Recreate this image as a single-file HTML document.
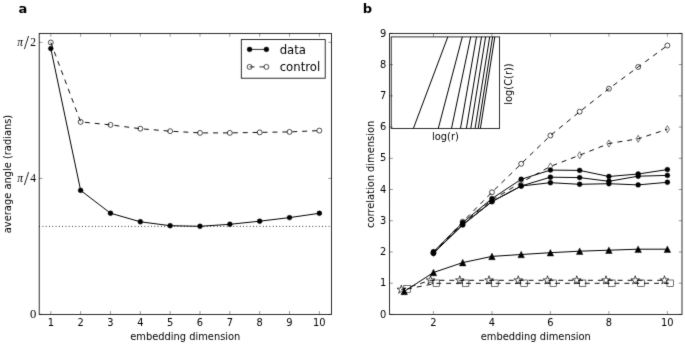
<!DOCTYPE html>
<html><head><meta charset="utf-8"><title>figure</title>
<style>
html,body{margin:0;padding:0;background:#fff;}
body{width:685px;height:344px;overflow:hidden;}
svg{display:block;}
text{font-family:"DejaVu Sans","Liberation Sans",sans-serif;fill:#000;}
</style></head>
<body>
<svg width="685" height="344" viewBox="0 0 685 344">
<defs><filter id="soft" filterUnits="userSpaceOnUse" x="0" y="0" width="685" height="344" color-interpolation-filters="sRGB"><feConvolveMatrix order="3" kernelMatrix="1 8 1 8 64 8 1 8 1" divisor="100" edgeMode="duplicate"/></filter></defs>
<g filter="url(#soft)">
<rect width="685" height="344" fill="#fff"/>
<path d="M39.2,226.4 L331.5,226.4" fill="none" stroke="#000" stroke-width="0.95" stroke-linejoin="round" stroke-dasharray="0.82 2.47"/>
<path d="M50.8,42.5 L80.64,121.9 L110.48,124.9 L140.32,128.7 L170.16,131.2 L200,132.9 L229.84,132.9 L259.68,132.4 L289.52,131.9 L319.36,130.6" fill="none" stroke="#000" stroke-width="0.95" stroke-linejoin="round" stroke-dasharray="4.95 4.95"/>
<path d="M50.8,48.6 L80.64,190.4 L110.48,213.2 L140.32,221.8 L170.16,225.7 L200,226.3 L229.84,224.3 L259.68,221.2 L289.52,217.6 L319.36,213.3" fill="none" stroke="#000" stroke-width="1" stroke-linejoin="round"/>
<circle cx="50.8" cy="42.5" r="2.47" fill="none" stroke="#000" stroke-width="0.7"/>
<circle cx="80.64" cy="121.9" r="2.47" fill="none" stroke="#000" stroke-width="0.7"/>
<circle cx="110.48" cy="124.9" r="2.47" fill="none" stroke="#000" stroke-width="0.7"/>
<circle cx="140.32" cy="128.7" r="2.47" fill="none" stroke="#000" stroke-width="0.7"/>
<circle cx="170.16" cy="131.2" r="2.47" fill="none" stroke="#000" stroke-width="0.7"/>
<circle cx="200" cy="132.9" r="2.47" fill="none" stroke="#000" stroke-width="0.7"/>
<circle cx="229.84" cy="132.9" r="2.47" fill="none" stroke="#000" stroke-width="0.7"/>
<circle cx="259.68" cy="132.4" r="2.47" fill="none" stroke="#000" stroke-width="0.7"/>
<circle cx="289.52" cy="131.9" r="2.47" fill="none" stroke="#000" stroke-width="0.7"/>
<circle cx="319.36" cy="130.6" r="2.47" fill="none" stroke="#000" stroke-width="0.7"/>
<circle cx="50.8" cy="48.6" r="2.47" fill="#000" stroke="#000" stroke-width="0.41"/>
<circle cx="80.64" cy="190.4" r="2.47" fill="#000" stroke="#000" stroke-width="0.41"/>
<circle cx="110.48" cy="213.2" r="2.47" fill="#000" stroke="#000" stroke-width="0.41"/>
<circle cx="140.32" cy="221.8" r="2.47" fill="#000" stroke="#000" stroke-width="0.41"/>
<circle cx="170.16" cy="225.7" r="2.47" fill="#000" stroke="#000" stroke-width="0.41"/>
<circle cx="200" cy="226.3" r="2.47" fill="#000" stroke="#000" stroke-width="0.41"/>
<circle cx="229.84" cy="224.3" r="2.47" fill="#000" stroke="#000" stroke-width="0.41"/>
<circle cx="259.68" cy="221.2" r="2.47" fill="#000" stroke="#000" stroke-width="0.41"/>
<circle cx="289.52" cy="217.6" r="2.47" fill="#000" stroke="#000" stroke-width="0.41"/>
<circle cx="319.36" cy="213.3" r="2.47" fill="#000" stroke="#000" stroke-width="0.41"/>
<path d="M50.8,314.4 V311.1 M50.8,33.4 V36.7" stroke="#000" stroke-width="0.41"/>
<text x="50.8" y="325.8" font-size="9.9" text-anchor="middle">1</text>
<path d="M80.64,314.4 V311.1 M80.64,33.4 V36.7" stroke="#000" stroke-width="0.41"/>
<text x="80.64" y="325.8" font-size="9.9" text-anchor="middle">2</text>
<path d="M110.48,314.4 V311.1 M110.48,33.4 V36.7" stroke="#000" stroke-width="0.41"/>
<text x="110.48" y="325.8" font-size="9.9" text-anchor="middle">3</text>
<path d="M140.32,314.4 V311.1 M140.32,33.4 V36.7" stroke="#000" stroke-width="0.41"/>
<text x="140.32" y="325.8" font-size="9.9" text-anchor="middle">4</text>
<path d="M170.16,314.4 V311.1 M170.16,33.4 V36.7" stroke="#000" stroke-width="0.41"/>
<text x="170.16" y="325.8" font-size="9.9" text-anchor="middle">5</text>
<path d="M200,314.4 V311.1 M200,33.4 V36.7" stroke="#000" stroke-width="0.41"/>
<text x="200" y="325.8" font-size="9.9" text-anchor="middle">6</text>
<path d="M229.84,314.4 V311.1 M229.84,33.4 V36.7" stroke="#000" stroke-width="0.41"/>
<text x="229.84" y="325.8" font-size="9.9" text-anchor="middle">7</text>
<path d="M259.68,314.4 V311.1 M259.68,33.4 V36.7" stroke="#000" stroke-width="0.41"/>
<text x="259.68" y="325.8" font-size="9.9" text-anchor="middle">8</text>
<path d="M289.52,314.4 V311.1 M289.52,33.4 V36.7" stroke="#000" stroke-width="0.41"/>
<text x="289.52" y="325.8" font-size="9.9" text-anchor="middle">9</text>
<path d="M319.36,314.4 V311.1 M319.36,33.4 V36.7" stroke="#000" stroke-width="0.41"/>
<text x="319.36" y="325.8" font-size="9.9" text-anchor="middle">10</text>
<path d="M39.2,42.3 H42.5 M331.5,42.3 H328.2" stroke="#000" stroke-width="0.41"/>
<path d="M39.2,178.4 H42.5 M331.5,178.4 H328.2" stroke="#000" stroke-width="0.41"/>
<path d="M39.2,314.4 H42.5 M331.5,314.4 H328.2" stroke="#000" stroke-width="0.41"/>
<rect x="39.2" y="33.4" width="292.3" height="281" fill="none" stroke="#000" stroke-width="0.82"/>
<text y="45.6" font-size="11.5" style="font-family:'Liberation Serif', serif"><tspan x="17.2" font-style="italic">π</tspan><tspan x="23.9" y="48.6" font-size="18">/</tspan><tspan x="30.3" y="45.6">2</tspan></text>
<text y="182.1" font-size="11.5" style="font-family:'Liberation Serif', serif"><tspan x="17.2" font-style="italic">π</tspan><tspan x="23.9" y="185.1" font-size="18">/</tspan><tspan x="30.3" y="182.1">4</tspan></text>
<text x="36.3" y="318.3" font-size="12.6" text-anchor="end" style="font-family:'Liberation Serif', serif">0</text>
<rect x="241.3" y="39.6" width="83.9" height="38.6" fill="#fff" stroke="#000" stroke-width="0.82"/>
<path d="M249.6,49.4 L266.4,49.4" fill="none" stroke="#000" stroke-width="0.82" stroke-linejoin="round"/>
<circle cx="249.6" cy="49.4" r="2.47" fill="#000" stroke="#000" stroke-width="0.41"/>
<circle cx="266.4" cy="49.4" r="2.47" fill="#000" stroke="#000" stroke-width="0.41"/>
<path d="M249.6,66.9 L266.4,66.9" fill="none" stroke="#000" stroke-width="0.82" stroke-linejoin="round" stroke-dasharray="4.95 4.95"/>
<circle cx="249.6" cy="66.9" r="2.47" fill="none" stroke="#000" stroke-width="0.7"/>
<circle cx="266.4" cy="66.9" r="2.47" fill="none" stroke="#000" stroke-width="0.7"/>
<text x="279.7" y="53.9" font-size="11.7" text-anchor="start">data</text>
<text x="279.7" y="71.2" font-size="11.7" text-anchor="start">control</text>
<text x="185.3" y="339.5" font-size="9.9" text-anchor="middle">embedding dimension</text>
<text transform="translate(10.5,174.0) rotate(-90)" font-size="9.9" text-anchor="middle">average angle (radians)</text>
<text x="18.5" y="13.0" font-size="13" font-weight="bold">a</text>
<path d="M433.46,252.6 L462.7,221.7 L491.94,192.3 L521.18,163.8 L550.42,135.5 L579.66,111.7 L608.9,88.7 L638.14,67 L667.38,45.5" fill="none" stroke="#000" stroke-width="0.95" stroke-linejoin="round" stroke-dasharray="4.95 4.95" stroke-dashoffset="1.6"/>
<path d="M433.46,252.8 L462.7,223.5 L491.94,200 L521.18,182.5 L550.42,166.4 L579.66,155.2 L608.9,143.5 L638.14,138.8 L667.38,129.2" fill="none" stroke="#000" stroke-width="0.95" stroke-linejoin="round" stroke-dasharray="4.95 4.95"/>
<path d="M401.32,289.6 L430.56,280.3 L459.8,280.3 L489.04,280.3 L518.28,280.3 L547.52,280.3 L576.76,280.3 L606,280.3 L635.24,280.3 L664.48,280.3" fill="none" stroke="#000" stroke-width="0.95" stroke-linejoin="round" stroke-dasharray="4.95 4.95"/>
<path d="M407.12,289 L436.36,283.3 L465.6,283.3 L494.84,283.3 L524.08,283.3 L553.32,283.3 L582.56,283.3 L611.8,283.3 L641.04,283.3 L670.28,283.3" fill="none" stroke="#000" stroke-width="0.95" stroke-linejoin="round" stroke-dasharray="4.95 4.95"/>
<circle cx="433.46" cy="252.6" r="2.47" fill="none" stroke="#000" stroke-width="0.7"/>
<circle cx="462.7" cy="221.7" r="2.47" fill="none" stroke="#000" stroke-width="0.7"/>
<circle cx="491.94" cy="192.3" r="2.47" fill="none" stroke="#000" stroke-width="0.7"/>
<circle cx="521.18" cy="163.8" r="2.47" fill="none" stroke="#000" stroke-width="0.7"/>
<circle cx="550.42" cy="135.5" r="2.47" fill="none" stroke="#000" stroke-width="0.7"/>
<circle cx="579.66" cy="111.7" r="2.47" fill="none" stroke="#000" stroke-width="0.7"/>
<circle cx="608.9" cy="88.7" r="2.47" fill="none" stroke="#000" stroke-width="0.7"/>
<circle cx="638.14" cy="67" r="2.47" fill="none" stroke="#000" stroke-width="0.7"/>
<circle cx="667.38" cy="45.5" r="2.47" fill="none" stroke="#000" stroke-width="0.7"/>
<path d="M433.46,249.3 L435.56,252.8 L433.46,256.3 L431.36,252.8 Z" fill="none" stroke="#000" stroke-width="0.55"/>
<path d="M462.7,220 L464.8,223.5 L462.7,227 L460.6,223.5 Z" fill="none" stroke="#000" stroke-width="0.55"/>
<path d="M491.94,196.5 L494.04,200 L491.94,203.5 L489.84,200 Z" fill="none" stroke="#000" stroke-width="0.55"/>
<path d="M521.18,179 L523.28,182.5 L521.18,186 L519.08,182.5 Z" fill="none" stroke="#000" stroke-width="0.55"/>
<path d="M550.42,162.9 L552.52,166.4 L550.42,169.9 L548.32,166.4 Z" fill="none" stroke="#000" stroke-width="0.55"/>
<path d="M579.66,151.7 L581.76,155.2 L579.66,158.7 L577.56,155.2 Z" fill="none" stroke="#000" stroke-width="0.55"/>
<path d="M608.9,140 L611,143.5 L608.9,147 L606.8,143.5 Z" fill="none" stroke="#000" stroke-width="0.55"/>
<path d="M638.14,135.3 L640.24,138.8 L638.14,142.3 L636.04,138.8 Z" fill="none" stroke="#000" stroke-width="0.55"/>
<path d="M667.38,125.7 L669.48,129.2 L667.38,132.7 L665.28,129.2 Z" fill="none" stroke="#000" stroke-width="0.55"/>
<path d="M401.32,285.06 L400.3,288.2 L397,288.2 L399.67,290.14 L398.65,293.27 L401.32,291.33 L403.99,293.27 L402.97,290.14 L405.64,288.2 L402.34,288.2 Z" fill="none" stroke="#000" stroke-width="0.7" stroke-linejoin="miter"/>
<path d="M430.56,275.76 L429.54,278.9 L426.24,278.9 L428.91,280.84 L427.89,283.97 L430.56,282.03 L433.23,283.97 L432.21,280.84 L434.88,278.9 L431.58,278.9 Z" fill="none" stroke="#000" stroke-width="0.7" stroke-linejoin="miter"/>
<path d="M459.8,275.76 L458.78,278.9 L455.48,278.9 L458.15,280.84 L457.13,283.97 L459.8,282.03 L462.47,283.97 L461.45,280.84 L464.12,278.9 L460.82,278.9 Z" fill="none" stroke="#000" stroke-width="0.7" stroke-linejoin="miter"/>
<path d="M489.04,275.76 L488.02,278.9 L484.72,278.9 L487.39,280.84 L486.37,283.97 L489.04,282.03 L491.71,283.97 L490.69,280.84 L493.36,278.9 L490.06,278.9 Z" fill="none" stroke="#000" stroke-width="0.7" stroke-linejoin="miter"/>
<path d="M518.28,275.76 L517.26,278.9 L513.96,278.9 L516.63,280.84 L515.61,283.97 L518.28,282.03 L520.95,283.97 L519.93,280.84 L522.6,278.9 L519.3,278.9 Z" fill="none" stroke="#000" stroke-width="0.7" stroke-linejoin="miter"/>
<path d="M547.52,275.76 L546.5,278.9 L543.2,278.9 L545.87,280.84 L544.85,283.97 L547.52,282.03 L550.19,283.97 L549.17,280.84 L551.84,278.9 L548.54,278.9 Z" fill="none" stroke="#000" stroke-width="0.7" stroke-linejoin="miter"/>
<path d="M576.76,275.76 L575.74,278.9 L572.44,278.9 L575.11,280.84 L574.09,283.97 L576.76,282.03 L579.43,283.97 L578.41,280.84 L581.08,278.9 L577.78,278.9 Z" fill="none" stroke="#000" stroke-width="0.7" stroke-linejoin="miter"/>
<path d="M606,275.76 L604.98,278.9 L601.68,278.9 L604.35,280.84 L603.33,283.97 L606,282.03 L608.67,283.97 L607.65,280.84 L610.32,278.9 L607.02,278.9 Z" fill="none" stroke="#000" stroke-width="0.7" stroke-linejoin="miter"/>
<path d="M635.24,275.76 L634.22,278.9 L630.92,278.9 L633.59,280.84 L632.57,283.97 L635.24,282.03 L637.91,283.97 L636.89,280.84 L639.56,278.9 L636.26,278.9 Z" fill="none" stroke="#000" stroke-width="0.7" stroke-linejoin="miter"/>
<path d="M664.48,275.76 L663.46,278.9 L660.16,278.9 L662.83,280.84 L661.81,283.97 L664.48,282.03 L667.15,283.97 L666.13,280.84 L668.8,278.9 L665.5,278.9 Z" fill="none" stroke="#000" stroke-width="0.7" stroke-linejoin="miter"/>
<rect x="403.82" y="285.7" width="6.6" height="6.6" fill="none" stroke="#000" stroke-width="0.55"/>
<rect x="433.06" y="280" width="6.6" height="6.6" fill="none" stroke="#000" stroke-width="0.55"/>
<rect x="462.3" y="280" width="6.6" height="6.6" fill="none" stroke="#000" stroke-width="0.55"/>
<rect x="491.54" y="280" width="6.6" height="6.6" fill="none" stroke="#000" stroke-width="0.55"/>
<rect x="520.78" y="280" width="6.6" height="6.6" fill="none" stroke="#000" stroke-width="0.55"/>
<rect x="550.02" y="280" width="6.6" height="6.6" fill="none" stroke="#000" stroke-width="0.55"/>
<rect x="579.26" y="280" width="6.6" height="6.6" fill="none" stroke="#000" stroke-width="0.55"/>
<rect x="608.5" y="280" width="6.6" height="6.6" fill="none" stroke="#000" stroke-width="0.55"/>
<rect x="637.74" y="280" width="6.6" height="6.6" fill="none" stroke="#000" stroke-width="0.55"/>
<rect x="666.98" y="280" width="6.6" height="6.6" fill="none" stroke="#000" stroke-width="0.55"/>
<path d="M404.22,291.4 L433.46,272.5 L462.7,262.6 L491.94,256.4 L521.18,254.5 L550.42,252.7 L579.66,251.2 L608.9,250.2 L638.14,249.2 L667.38,249.2" fill="none" stroke="#000" stroke-width="1" stroke-linejoin="round"/>
<path d="M404.22,288.1 L400.92,294.7 L407.52,294.7 Z" fill="#000" stroke="#000" stroke-width="0.41" stroke-linejoin="miter"/>
<path d="M433.46,269.2 L430.16,275.8 L436.76,275.8 Z" fill="#000" stroke="#000" stroke-width="0.41" stroke-linejoin="miter"/>
<path d="M462.7,259.3 L459.4,265.9 L466,265.9 Z" fill="#000" stroke="#000" stroke-width="0.41" stroke-linejoin="miter"/>
<path d="M491.94,253.1 L488.64,259.7 L495.24,259.7 Z" fill="#000" stroke="#000" stroke-width="0.41" stroke-linejoin="miter"/>
<path d="M521.18,251.2 L517.88,257.8 L524.48,257.8 Z" fill="#000" stroke="#000" stroke-width="0.41" stroke-linejoin="miter"/>
<path d="M550.42,249.4 L547.12,256 L553.72,256 Z" fill="#000" stroke="#000" stroke-width="0.41" stroke-linejoin="miter"/>
<path d="M579.66,247.9 L576.36,254.5 L582.96,254.5 Z" fill="#000" stroke="#000" stroke-width="0.41" stroke-linejoin="miter"/>
<path d="M608.9,246.9 L605.6,253.5 L612.2,253.5 Z" fill="#000" stroke="#000" stroke-width="0.41" stroke-linejoin="miter"/>
<path d="M638.14,245.9 L634.84,252.5 L641.44,252.5 Z" fill="#000" stroke="#000" stroke-width="0.41" stroke-linejoin="miter"/>
<path d="M667.38,245.9 L664.08,252.5 L670.68,252.5 Z" fill="#000" stroke="#000" stroke-width="0.41" stroke-linejoin="miter"/>
<path d="M433.46,251.8 L462.7,222.6 L491.94,198.6 L521.18,179.3 L550.42,170.1 L579.66,170.4 L608.9,176.5 L638.14,174 L667.38,169.6" fill="none" stroke="#000" stroke-width="1" stroke-linejoin="round"/>
<path d="M433.46,253.3 L462.7,224.8 L491.94,201.6 L521.18,186 L550.42,177.2 L579.66,177.6 L608.9,181.3 L638.14,176.2 L667.38,175.4" fill="none" stroke="#000" stroke-width="1" stroke-linejoin="round"/>
<path d="M433.46,253.3 L462.7,224.8 L491.94,201.6 L521.18,186 L550.42,182.7 L579.66,184.3 L608.9,183.7 L638.14,184.9 L667.38,182.3" fill="none" stroke="#000" stroke-width="1" stroke-linejoin="round"/>
<circle cx="433.46" cy="251.8" r="2.47" fill="#000" stroke="#000" stroke-width="0.41"/>
<circle cx="462.7" cy="222.6" r="2.47" fill="#000" stroke="#000" stroke-width="0.41"/>
<circle cx="491.94" cy="198.6" r="2.47" fill="#000" stroke="#000" stroke-width="0.41"/>
<circle cx="521.18" cy="179.3" r="2.47" fill="#000" stroke="#000" stroke-width="0.41"/>
<circle cx="550.42" cy="170.1" r="2.47" fill="#000" stroke="#000" stroke-width="0.41"/>
<circle cx="579.66" cy="170.4" r="2.47" fill="#000" stroke="#000" stroke-width="0.41"/>
<circle cx="608.9" cy="176.5" r="2.47" fill="#000" stroke="#000" stroke-width="0.41"/>
<circle cx="638.14" cy="174" r="2.47" fill="#000" stroke="#000" stroke-width="0.41"/>
<circle cx="667.38" cy="169.6" r="2.47" fill="#000" stroke="#000" stroke-width="0.41"/>
<circle cx="433.46" cy="253.3" r="2.47" fill="#000" stroke="#000" stroke-width="0.41"/>
<circle cx="462.7" cy="224.8" r="2.47" fill="#000" stroke="#000" stroke-width="0.41"/>
<circle cx="491.94" cy="201.6" r="2.47" fill="#000" stroke="#000" stroke-width="0.41"/>
<circle cx="521.18" cy="186" r="2.47" fill="#000" stroke="#000" stroke-width="0.41"/>
<circle cx="550.42" cy="177.2" r="2.47" fill="#000" stroke="#000" stroke-width="0.41"/>
<circle cx="579.66" cy="177.6" r="2.47" fill="#000" stroke="#000" stroke-width="0.41"/>
<circle cx="608.9" cy="181.3" r="2.47" fill="#000" stroke="#000" stroke-width="0.41"/>
<circle cx="638.14" cy="176.2" r="2.47" fill="#000" stroke="#000" stroke-width="0.41"/>
<circle cx="667.38" cy="175.4" r="2.47" fill="#000" stroke="#000" stroke-width="0.41"/>
<circle cx="433.46" cy="253.3" r="2.47" fill="#000" stroke="#000" stroke-width="0.41"/>
<circle cx="462.7" cy="224.8" r="2.47" fill="#000" stroke="#000" stroke-width="0.41"/>
<circle cx="491.94" cy="201.6" r="2.47" fill="#000" stroke="#000" stroke-width="0.41"/>
<circle cx="521.18" cy="186" r="2.47" fill="#000" stroke="#000" stroke-width="0.41"/>
<circle cx="550.42" cy="182.7" r="2.47" fill="#000" stroke="#000" stroke-width="0.41"/>
<circle cx="579.66" cy="184.3" r="2.47" fill="#000" stroke="#000" stroke-width="0.41"/>
<circle cx="608.9" cy="183.7" r="2.47" fill="#000" stroke="#000" stroke-width="0.41"/>
<circle cx="638.14" cy="184.9" r="2.47" fill="#000" stroke="#000" stroke-width="0.41"/>
<circle cx="667.38" cy="182.3" r="2.47" fill="#000" stroke="#000" stroke-width="0.41"/>
<rect x="391.2" y="36.9" width="108.4" height="91.5" fill="#fff" stroke="#000" stroke-width="0.82"/>
<path d="M413.4,128.4 L447.8,36.9" fill="none" stroke="#000" stroke-width="1" stroke-linejoin="round"/>
<path d="M438.3,128.4 L462.3,36.9" fill="none" stroke="#000" stroke-width="1" stroke-linejoin="round"/>
<path d="M451.5,128.4 L470.7,36.9" fill="none" stroke="#000" stroke-width="1" stroke-linejoin="round"/>
<path d="M460.5,128.4 L476.5,36.9" fill="none" stroke="#000" stroke-width="1" stroke-linejoin="round"/>
<path d="M466.4,128.4 L481.5,36.9" fill="none" stroke="#000" stroke-width="1" stroke-linejoin="round"/>
<path d="M470.8,128.4 L485.6,36.9" fill="none" stroke="#000" stroke-width="1" stroke-linejoin="round"/>
<path d="M475.1,128.4 L489.7,36.9" fill="none" stroke="#000" stroke-width="1" stroke-linejoin="round"/>
<path d="M478.2,128.4 L492.6,36.9" fill="none" stroke="#000" stroke-width="1" stroke-linejoin="round"/>
<path d="M480.4,128.4 L494.8,36.9" fill="none" stroke="#000" stroke-width="1" stroke-linejoin="round"/>
<text x="445.4" y="140.1" font-size="9.9" text-anchor="middle">log(r)</text>
<text transform="translate(512.0,84.0) rotate(-90)" font-size="9.9" text-anchor="middle">log(C(r))</text>
<path d="M433.46,314.4 V311.1 M433.46,33.4 V36.7" stroke="#000" stroke-width="0.41"/>
<text x="433.46" y="325.8" font-size="9.9" text-anchor="middle">2</text>
<path d="M491.94,314.4 V311.1 M491.94,33.4 V36.7" stroke="#000" stroke-width="0.41"/>
<text x="491.94" y="325.8" font-size="9.9" text-anchor="middle">4</text>
<path d="M550.42,314.4 V311.1 M550.42,33.4 V36.7" stroke="#000" stroke-width="0.41"/>
<text x="550.42" y="325.8" font-size="9.9" text-anchor="middle">6</text>
<path d="M608.9,314.4 V311.1 M608.9,33.4 V36.7" stroke="#000" stroke-width="0.41"/>
<text x="608.9" y="325.8" font-size="9.9" text-anchor="middle">8</text>
<path d="M667.38,314.4 V311.1 M667.38,33.4 V36.7" stroke="#000" stroke-width="0.41"/>
<text x="667.38" y="325.8" font-size="9.9" text-anchor="middle">10</text>
<path d="M389.6,314.4 H392.9 M682,314.4 H678.7" stroke="#000" stroke-width="0.41"/>
<text x="386.4" y="317.6" font-size="9.9" text-anchor="end">0</text>
<path d="M389.6,283.18 H392.9 M682,283.18 H678.7" stroke="#000" stroke-width="0.41"/>
<text x="386.4" y="286.38" font-size="9.9" text-anchor="end">1</text>
<path d="M389.6,251.96 H392.9 M682,251.96 H678.7" stroke="#000" stroke-width="0.41"/>
<text x="386.4" y="255.16" font-size="9.9" text-anchor="end">2</text>
<path d="M389.6,220.73 H392.9 M682,220.73 H678.7" stroke="#000" stroke-width="0.41"/>
<text x="386.4" y="223.93" font-size="9.9" text-anchor="end">3</text>
<path d="M389.6,189.51 H392.9 M682,189.51 H678.7" stroke="#000" stroke-width="0.41"/>
<text x="386.4" y="192.71" font-size="9.9" text-anchor="end">4</text>
<path d="M389.6,158.29 H392.9 M682,158.29 H678.7" stroke="#000" stroke-width="0.41"/>
<text x="386.4" y="161.49" font-size="9.9" text-anchor="end">5</text>
<path d="M389.6,127.07 H392.9 M682,127.07 H678.7" stroke="#000" stroke-width="0.41"/>
<text x="386.4" y="130.27" font-size="9.9" text-anchor="end">6</text>
<path d="M389.6,95.85 H392.9 M682,95.85 H678.7" stroke="#000" stroke-width="0.41"/>
<text x="386.4" y="99.05" font-size="9.9" text-anchor="end">7</text>
<path d="M389.6,64.62 H392.9 M682,64.62 H678.7" stroke="#000" stroke-width="0.41"/>
<text x="386.4" y="67.82" font-size="9.9" text-anchor="end">8</text>
<path d="M389.6,33.4 H392.9 M682,33.4 H678.7" stroke="#000" stroke-width="0.41"/>
<text x="386.4" y="36.6" font-size="9.9" text-anchor="end">9</text>
<rect x="389.6" y="33.4" width="292.4" height="281" fill="none" stroke="#000" stroke-width="0.82"/>
<text x="535.8" y="339.5" font-size="9.9" text-anchor="middle">embedding dimension</text>
<text transform="translate(373.7,174.4) rotate(-90)" font-size="9.9" text-anchor="middle">correlation dimension</text>
<text x="362.7" y="12.8" font-size="13" font-weight="bold">b</text>
</g>
</svg>
</body></html>
